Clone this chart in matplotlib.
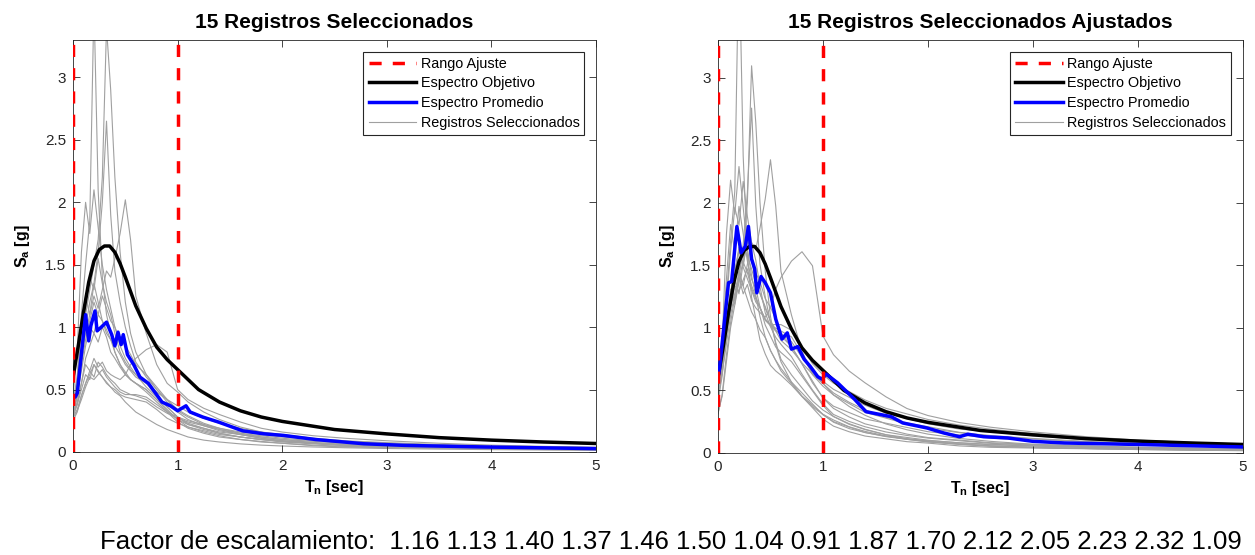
import numpy as np
import matplotlib
matplotlib.use("Agg")
import matplotlib.pyplot as plt
from matplotlib.lines import Line2D

plt.rcParams['font.family'] = ['Liberation Sans', 'DejaVu Sans']
plt.rcParams['mathtext.fontset'] = 'custom'
plt.rcParams['mathtext.rm'] = 'Liberation Sans'
plt.rcParams['mathtext.bf'] = 'Liberation Sans:bold'

# ---- data ------------------------------------------------------------------
periods = [0.0, 0.04, 0.08, 0.12, 0.16, 0.2, 0.24, 0.28, 0.32, 0.36, 0.4, 0.45,
           0.5, 0.55, 0.6, 0.7, 0.8, 0.9, 1.0, 1.1, 1.25, 1.4, 1.6, 1.8, 2.0,
           2.3, 2.6, 3.0, 3.5, 4.0, 4.5, 5.0]

# unscaled records (left panel), one list per record
rec01 = [0.40, 0.55, 0.75, 0.95, 1.10, 1.25, 1.15, 1.30, 1.45, 1.40, 1.55, 1.75, 2.02, 1.70, 1.25, 0.95,
         0.70, 0.55, 0.48, 0.40, 0.32, 0.26, 0.20, 0.16, 0.13, 0.10, 0.08, 0.06, 0.05, 0.04, 0.035, 0.03]
rec02 = [0.35, 0.60, 1.10, 1.50, 1.85, 3.60, 2.10, 1.40, 1.10, 0.95, 0.80, 0.70, 0.62, 0.58, 0.55, 0.48,
         0.40, 0.32, 0.24, 0.19, 0.15, 0.12, 0.10, 0.08, 0.07, 0.05, 0.04, 0.035, 0.03, 0.025, 0.02, 0.018]
rec03 = [0.35, 0.50, 0.85, 1.15, 1.40, 1.30, 1.55, 1.35, 1.20, 1.10, 0.95, 0.80, 0.72, 0.66, 0.62, 0.55,
         0.45, 0.36, 0.28, 0.22, 0.18, 0.15, 0.12, 0.10, 0.085, 0.07, 0.055, 0.045, 0.035, 0.03, 0.025, 0.02]
rec04 = [0.30, 0.45, 0.70, 0.90, 1.05, 1.20, 1.10, 1.25, 1.15, 1.05, 1.00, 0.90, 0.85, 0.78, 0.70, 0.62,
         0.52, 0.42, 0.32, 0.26, 0.21, 0.17, 0.14, 0.11, 0.09, 0.075, 0.06, 0.05, 0.04, 0.032, 0.027, 0.022]
rec05 = [0.40, 0.60, 0.95, 1.25, 1.10, 1.35, 1.20, 1.05, 0.95, 0.90, 0.80, 0.70, 0.64, 0.58, 0.55, 0.50,
         0.42, 0.34, 0.26, 0.20, 0.16, 0.13, 0.10, 0.085, 0.07, 0.055, 0.045, 0.038, 0.03, 0.025, 0.02, 0.017]
rec06 = [0.32, 0.45, 0.65, 0.85, 1.00, 0.95, 1.10, 1.05, 0.98, 0.90, 0.85, 0.78, 0.70, 0.65, 0.60, 0.55,
         0.48, 0.42, 0.37, 0.32, 0.27, 0.23, 0.19, 0.16, 0.14, 0.11, 0.09, 0.075, 0.06, 0.05, 0.042, 0.035]
rec07 = [0.30, 0.45, 0.75, 1.00, 1.20, 1.35, 1.60, 2.00, 2.65, 1.90, 1.45, 1.20, 1.00, 0.85, 0.72, 0.60,
         0.50, 0.40, 0.33, 0.28, 0.22, 0.18, 0.14, 0.11, 0.09, 0.07, 0.055, 0.045, 0.035, 0.03, 0.025, 0.02]
rec08 = [0.35, 0.50, 0.80, 1.10, 1.30, 1.50, 1.70, 2.20, 3.40, 2.90, 2.20, 1.60, 1.20, 0.95, 0.80, 0.62,
         0.50, 0.42, 0.34, 0.29, 0.23, 0.19, 0.15, 0.12, 0.10, 0.075, 0.06, 0.05, 0.04, 0.03, 0.025, 0.02]
rec09 = [0.30, 0.40, 0.55, 0.70, 0.65, 0.75, 0.68, 0.72, 0.65, 0.62, 0.60, 0.58, 0.62, 0.70, 0.75, 0.82,
         0.86, 0.80, 0.50, 0.42, 0.35, 0.30, 0.24, 0.19, 0.16, 0.13, 0.11, 0.09, 0.07, 0.055, 0.045, 0.038]
rec10 = [0.28, 0.38, 0.55, 0.75, 0.85, 0.95, 0.88, 1.00, 0.92, 0.80, 0.75, 0.68, 0.62, 0.58, 0.55, 0.50,
         0.42, 0.33, 0.26, 0.22, 0.19, 0.16, 0.14, 0.12, 0.10, 0.085, 0.07, 0.058, 0.046, 0.038, 0.032, 0.027]
rec11 = [0.25, 0.32, 0.45, 0.55, 0.65, 0.60, 0.72, 0.68, 0.62, 0.58, 0.55, 0.50, 0.48, 0.46, 0.45, 0.42,
         0.36, 0.31, 0.27, 0.24, 0.21, 0.18, 0.15, 0.13, 0.11, 0.09, 0.08, 0.065, 0.05, 0.042, 0.035, 0.03]
rec12 = [0.30, 0.38, 0.50, 0.62, 0.58, 0.70, 0.65, 0.60, 0.55, 0.52, 0.48, 0.45, 0.40, 0.36, 0.32, 0.27,
         0.22, 0.18, 0.15, 0.12, 0.095, 0.08, 0.065, 0.055, 0.048, 0.04, 0.034, 0.028, 0.023, 0.019, 0.016, 0.014]
rec13 = [0.27, 0.33, 0.42, 0.52, 0.60, 0.58, 0.62, 0.66, 0.60, 0.56, 0.52, 0.48, 0.46, 0.46, 0.46, 0.44,
         0.38, 0.32, 0.28, 0.25, 0.22, 0.19, 0.16, 0.14, 0.12, 0.10, 0.085, 0.07, 0.055, 0.045, 0.038, 0.032]
rec14 = [0.28, 0.34, 0.45, 0.55, 0.62, 0.70, 0.64, 0.60, 0.56, 0.52, 0.50, 0.46, 0.44, 0.43, 0.42, 0.40,
         0.34, 0.27, 0.23, 0.20, 0.17, 0.14, 0.12, 0.10, 0.085, 0.07, 0.06, 0.05, 0.04, 0.034, 0.028, 0.024]
rec15 = [0.45, 0.80, 1.60, 2.00, 1.75, 2.10, 1.80, 1.50, 1.30, 1.15, 1.00, 0.85, 0.75, 0.68, 0.62, 0.52,
         0.44, 0.36, 0.28, 0.23, 0.19, 0.15, 0.12, 0.10, 0.08, 0.065, 0.05, 0.04, 0.033, 0.028, 0.024, 0.02]
records = [rec01, rec02, rec03, rec04, rec05, rec06, rec07, rec08,
           rec09, rec10, rec11, rec12, rec13, rec14, rec15]

scale_factors = [1.16, 1.13, 1.40, 1.37, 1.46, 1.50, 1.04, 0.91,
                 1.87, 1.70, 2.12, 2.05, 2.23, 2.32, 1.09]

# target spectrum
target_T = [0.0, 0.05, 0.1, 0.15, 0.2, 0.25, 0.3, 0.35, 0.4, 0.45, 0.5, 0.6, 0.7, 0.8,
            0.9, 1.0, 1.2, 1.4, 1.6, 1.8, 2.0, 2.5, 3.0, 3.5, 4.0, 4.5, 5.0]
target_Sa = [0.60, 0.85, 1.12, 1.36, 1.53, 1.62, 1.65, 1.65, 1.60, 1.51, 1.40, 1.17, 0.99, 0.84,
             0.74, 0.66, 0.50, 0.40, 0.33, 0.28, 0.245, 0.18, 0.145, 0.115, 0.095, 0.08, 0.068]

# mean spectrum, unscaled records
mean_T_raw = [0.0, 0.02, 0.04, 0.12, 0.15, 0.17, 0.21, 0.23, 0.27, 0.32, 0.37, 0.40, 0.43, 0.46,
              0.48, 0.52, 0.58, 0.64, 0.72, 0.79, 0.85, 0.93, 1.0, 1.08, 1.12, 1.24, 1.39,
              1.62, 1.82, 2.01, 2.32, 2.78, 3.17, 3.94, 5.0]
mean_Sa_raw = [0.44, 0.44, 0.47, 1.10, 0.89, 1.01, 1.13, 0.97, 1.00, 1.04, 0.94, 0.85, 0.96, 0.86,
               0.94, 0.78, 0.70, 0.60, 0.55, 0.47, 0.40, 0.37, 0.33, 0.37, 0.32, 0.28, 0.24,
               0.17, 0.146, 0.133, 0.10, 0.066, 0.053, 0.04, 0.027]

# mean spectrum, scaled records
mean_T_adj = [0.0, 0.01, 0.05, 0.10, 0.13, 0.18, 0.22, 0.26, 0.29, 0.32, 0.35, 0.37, 0.41, 0.45,
              0.50, 0.55, 0.61, 0.66, 0.70, 0.76, 0.82, 0.88, 0.95, 0.99, 1.03, 1.14, 1.30,
              1.41, 1.53, 1.65, 1.76, 1.99, 2.15, 2.30, 2.38, 2.53, 2.76, 3.0, 3.3, 4.07, 5.0]
mean_Sa_adj = [0.62, 0.64, 0.96, 1.36, 1.37, 1.81, 1.60, 1.65, 1.81, 1.55, 1.47, 1.28, 1.41, 1.36,
               1.28, 1.07, 0.91, 0.96, 0.83, 0.85, 0.75, 0.69, 0.61, 0.59, 0.63, 0.56, 0.43,
               0.33, 0.31, 0.29, 0.24, 0.20, 0.16, 0.13, 0.15, 0.13, 0.12, 0.093, 0.08, 0.067, 0.048]

fit_range = [0.0, 1.0]

# ---- plotting ---------------------------------------------------------------
AX_GRAY = '#262626'
REC_GRAY = '#a0a0a0'
fig = plt.figure(figsize=(12.55, 5.55), dpi=100)
ax_left = fig.add_axes([0.0582, 0.1856, 0.4167, 0.7423])
ax_right = fig.add_axes([0.5721, 0.1838, 0.4183, 0.7441])


def draw_panel(ax, recs, mean_T, mean_Sa, title):
    for r in recs:
        ax.plot(periods, r, color=REC_GRAY, lw=0.8, zorder=1)
    ax.plot(target_T, target_Sa, color='k', lw=2.5, zorder=3)
    ax.plot(mean_T, mean_Sa, color='#0000ff', lw=2.5, zorder=4)
    for xv in fit_range:
        ax.axvline(xv, color='#ff0000', lw=2.5, ls=(0, (3.5, 3.2)), zorder=5)

    ax.set_xlim(0, 5)
    ax.set_ylim(0, 3.3)
    ax.set_xticks(range(0, 6))
    ax.set_yticks([0, 0.5, 1, 1.5, 2, 2.5, 3])
    ax.set_yticklabels(['0', '0.5', '1', '1.5', '2', '2.5', '3'])
    ax.tick_params(direction='in', top=True, right=True, length=5, width=0.6,
                   colors=AX_GRAY, labelsize=11, pad=5)
    for sp in ax.spines.values():
        sp.set_color(AX_GRAY)
        sp.set_linewidth(0.6)

    ax.set_title(title, fontsize=15, fontweight='bold', pad=9)
    ax.set_xlabel(r'$\mathbf{T_n}$ [sec]', fontsize=11.5, fontweight='bold', labelpad=4)
    ax.set_ylabel(r'$\mathbf{S_a}$ [g]', fontsize=11.5, fontweight='bold', labelpad=9)

    handles = [
        Line2D([], [], color='#ff0000', lw=2.5, ls=(0, (3.5, 3.2))),
        Line2D([], [], color='k', lw=2.5),
        Line2D([], [], color='#0000ff', lw=2.5),
        Line2D([], [], color=REC_GRAY, lw=0.8),
    ]
    labels = ['Rango Ajuste', 'Espectro Objetivo', 'Espectro Promedio', 'Registros Seleccionados']
    leg = ax.legend(handles, labels, loc='upper right', fontsize=10.4, handlelength=3.3,
                    handletextpad=0.3, labelspacing=0.4, borderaxespad=0.8,
                    fancybox=False, framealpha=1, borderpad=0.35)
    leg.get_frame().set_edgecolor(AX_GRAY)
    leg.get_frame().set_linewidth(0.8)


draw_panel(ax_left, records, mean_T_raw, mean_Sa_raw, '15 Registros Seleccionados')

scaled = [[v * f for v in r] for r, f in zip(records, scale_factors)]
draw_panel(ax_right, scaled, mean_T_adj, mean_Sa_adj, '15 Registros Seleccionados Ajustados')

factor_txt = 'Factor de escalamiento:  ' + ' '.join(f'{f:.2f}' for f in scale_factors)
fig.text(0.0797, 0.011, factor_txt, fontsize=18.5, ha='left', va='baseline', color='k')

fig.savefig('out.png', dpi=100)
